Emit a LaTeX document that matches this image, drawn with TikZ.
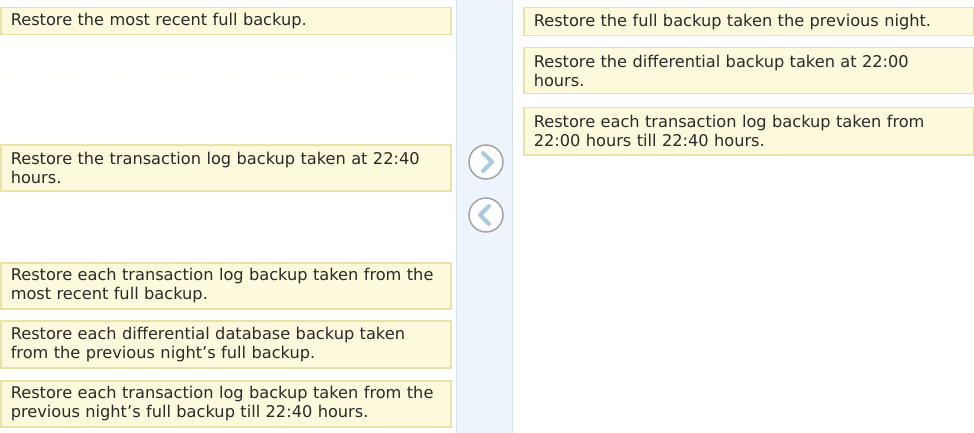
\documentclass[tikz,border=0pt]{standalone}
\usepackage{fontspec}
\setmainfont{DejaVu Sans}
\usetikzlibrary{calc}
\definecolor{boxfill}{HTML}{FDF9DC}
\definecolor{boxline}{HTML}{E9E2A6}
\definecolor{panelfill}{HTML}{EEF4FB}
\definecolor{panelline}{HTML}{D6E2EE}
\definecolor{chev}{HTML}{A9CBE0}
\definecolor{ring}{HTML}{A0A4A8}
\definecolor{txt}{HTML}{2A2A2A}
\tikzset{
  answer/.style={draw=boxline, fill=boxfill, line width=1.5pt, anchor=north west,
    minimum width=#1, text width=#1-20pt, align=left, inner xsep=9pt, inner ysep=2pt,
    text=txt, font=\fontsize{16.2}{19}\selectfont},
  ringbtn/.style={circle, draw=ring, line width=1.5pt, fill=white, minimum size=34pt, inner sep=0pt},
  chevron/.style={draw=chev, line width=4pt, line cap=round, line join=round}
}
\begin{document}
\begin{tikzpicture}[x=1pt,y=-1pt]
\useasboundingbox (0,0) rectangle (974,433);
\fill[white] (0,0) rectangle (974,433);
% middle panel
\fill[panelfill] (456,0) rectangle (512,433);
\draw[panelline, line width=1pt] (456,0) -- (456,433);
\draw[panelline, line width=1pt] (512,0) -- (512,433);
% faint separators
\draw[boxfill!60!white, line width=0.8pt, dotted] (0,78) -- (450,78);
% left column
\node[answer=450pt, minimum height=27pt] (l1) at (0,7) {Restore the most recent full backup.};
\node[answer=450pt, minimum height=46pt] (l2) at (0,144) {Restore the transaction log backup taken at 22:40\\hours.};
\node[answer=450pt, minimum height=46pt] (l3) at (0,262) {Restore each transaction log backup taken from the\\most recent full backup.};
\node[answer=450pt, minimum height=47pt] (l4) at (0,320) {Restore each differential database backup taken\\from the previous night’s full backup.};
\node[answer=450pt, minimum height=46pt] (l5) at (0,380) {Restore each transaction log backup taken from the\\previous night’s full backup till 22:40 hours.};
% right column
\node[answer=450pt, minimum height=28pt] (r1) at (523,7) {Restore the full backup taken the previous night.};
\node[answer=450pt, minimum height=46pt] (r2) at (523,47) {Restore the differential backup taken at 22:00\\hours.};
\node[answer=450pt, minimum height=47pt] (r3) at (523,107) {Restore each transaction log backup taken from\\22:00 hours till 22:40 hours.};
% buttons
\node[ringbtn] (bright) at (486,162) {};
\node[ringbtn] (bleft) at (486,215) {};
\draw[chevron] ($(bright)+(-3,-9)$) -- ($(bright)+(6,0)$) -- ($(bright)+(-3,9)$);
\draw[chevron] ($(bleft)+(3,-9)$) -- ($(bleft)+(-6,0)$) -- ($(bleft)+(3,9)$);
\end{tikzpicture}
\end{document}
